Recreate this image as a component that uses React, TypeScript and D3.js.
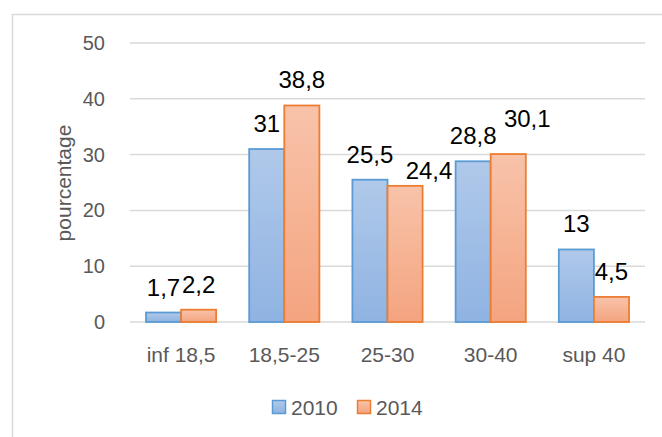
import React, { useEffect, useRef } from 'react';
import * as d3 from 'd3';

const categories = ['inf 18,5', '18,5-25', '25-30', '30-40', 'sup 40'];
const series = ['2010', '2014'];
const values2010 = [1.7, 31, 25.5, 28.8, 13];
const values2014 = [2.2, 38.8, 24.4, 30.1, 4.5];
const labels2010 = ['1,7', '31', '25,5', '28,8', '13'];
const labels2014 = ['2,2', '38,8', '24,4', '30,1', '4,5'];
const yTicks = [0, 10, 20, 30, 40, 50];

// labels that were dragged by hand in the original chart
const nudges: Record<string, [number, number]> = {
    '2014-25-30': [24, 10],
    '2014-30-40': [19, -10],
};

const App = () => {
    const svgRef = useRef<SVGSVGElement>(null);

    useEffect(() => {
        const width = 662;
        const height = 437;
        const svg = d3.select(svgRef.current);
        svg.selectAll('*').remove();
        svg.attr('width', width).attr('height', height);

        const font = "'Liberation Sans', Arial, sans-serif";
        const grey = '#595959';

        const defs = svg.append('defs');
        const grads = [
            { id: 'g2010', top: '#b0c9ea', bottom: '#8fb3e2' },
            { id: 'g2014', top: '#f8c3aa', bottom: '#f4a47f' },
        ];
        grads.forEach(g => {
            const lg = defs.append('linearGradient')
                .attr('id', g.id)
                .attr('x1', 0).attr('y1', 0).attr('x2', 0).attr('y2', 1);
            lg.append('stop').attr('offset', '0%').attr('stop-color', g.top);
            lg.append('stop').attr('offset', '100%').attr('stop-color', g.bottom);
        });

        svg.append('rect')
            .attr('x', 12.5).attr('y', 14.5)
            .attr('width', 700).attr('height', 500)
            .attr('fill', 'white')
            .attr('stroke', '#d9d9d9')
            .attr('stroke-width', 1.5);

        const x0 = d3.scaleBand()
            .domain(categories)
            .range([130, 645])
            .paddingInner(0.32)
            .paddingOuter(0.155);

        const x1 = d3.scaleBand()
            .domain(series)
            .range([0, x0.bandwidth()]);

        const y = d3.scaleLinear()
            .domain([0, 50])
            .range([322, 43]);

        const color = d3.scaleOrdinal<string, string>()
            .domain(series)
            .range(['#5b9bd5', '#ed7d31']);

        // gridlines
        svg.append('g')
            .selectAll('line')
            .data(yTicks)
            .enter()
            .append('line')
            .attr('x1', 130)
            .attr('x2', 645)
            .attr('y1', d => y(d))
            .attr('y2', d => y(d))
            .attr('stroke', '#d9d9d9')
            .attr('stroke-width', 1.5);

        // y tick labels
        svg.append('g')
            .selectAll('text')
            .data(yTicks)
            .enter()
            .append('text')
            .attr('x', 105)
            .attr('y', d => y(d) + 7)
            .attr('text-anchor', 'end')
            .attr('font-family', font)
            .attr('font-size', 20)
            .attr('fill', grey)
            .text(d => d);

        svg.append('text')
            .attr('transform', `translate(71, 183) rotate(-90)`)
            .attr('text-anchor', 'middle')
            .attr('font-family', font)
            .attr('font-size', 21)
            .attr('fill', grey)
            .text('pourcentage');

        const rows = categories.flatMap((c, i) => [
            { cat: c, key: '2010', value: values2010[i], label: labels2010[i] },
            { cat: c, key: '2014', value: values2014[i], label: labels2014[i] },
        ]);

        svg.append('g')
            .selectAll('rect')
            .data(rows)
            .enter()
            .append('rect')
            .attr('x', d => x0(d.cat)! + x1(d.key)!)
            .attr('y', d => y(d.value))
            .attr('width', x1.bandwidth())
            .attr('height', d => y(0) - y(d.value))
            .attr('fill', d => `url(#g${d.key})`)
            .attr('stroke', d => color(d.key))
            .attr('stroke-width', 1.8);

        svg.append('g')
            .selectAll('text')
            .data(rows)
            .enter()
            .append('text')
            .attr('x', d => x0(d.cat)! + x1(d.key)! + x1.bandwidth() / 2 + (nudges[`${d.key}-${d.cat}`]?.[0] ?? 0))
            .attr('y', d => y(d.value) - 17 + (nudges[`${d.key}-${d.cat}`]?.[1] ?? 0))
            .attr('text-anchor', 'middle')
            .attr('font-family', font)
            .attr('font-size', 24)
            .attr('fill', '#000')
            .text(d => d.label);

        // x labels
        svg.append('g')
            .selectAll('text')
            .data(categories)
            .enter()
            .append('text')
            .attr('x', d => x0(d)! + x0.bandwidth() / 2)
            .attr('y', 362)
            .attr('text-anchor', 'middle')
            .attr('font-family', font)
            .attr('font-size', 21)
            .attr('fill', grey)
            .text(d => d);

        // legend
        const legend = svg.append('g')
            .selectAll('g')
            .data(series)
            .enter()
            .append('g')
            .attr('transform', (d, i) => `translate(${272 + i * 85}, 400)`);
        legend.append('rect')
            .attr('x', 0.5).attr('y', 0.5)
            .attr('width', 13).attr('height', 13)
            .attr('fill', d => `url(#g${d})`)
            .attr('stroke', d => color(d))
            .attr('stroke-width', 1.5);
        legend.append('text')
            .attr('x', 19)
            .attr('y', 14.5)
            .attr('font-family', font)
            .attr('font-size', 21)
            .attr('fill', grey)
            .text(d => d);
    }, []);

    return (
        <div style={{ position: 'absolute', left: 0, top: 0 }}>
            <svg ref={svgRef} style={{ display: 'block' }}></svg>
        </div>
    );
};

export default App;
